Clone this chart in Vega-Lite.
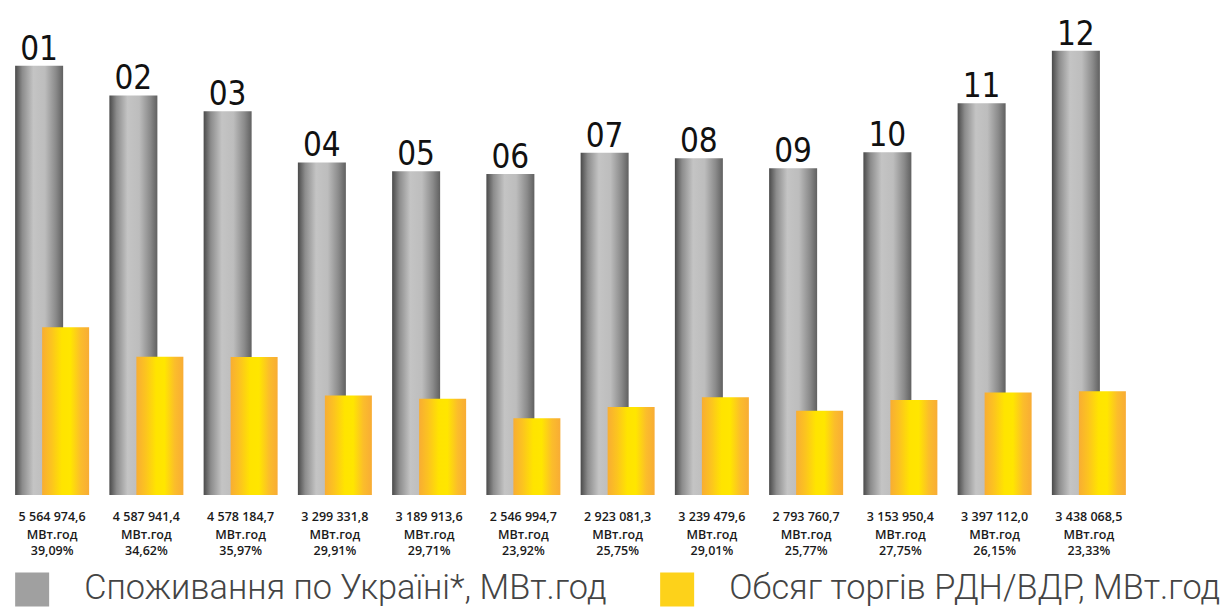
{
  "$schema": "https://vega.github.io/schema/vega-lite/v6.json",
  "width": 1131,
  "height": 495,
  "autosize": {"type": "none"},
  "padding": {"left": 5, "top": 0, "right": 93, "bottom": 113},
  "background": "white",
  "config": {"view": {"stroke": null}},
  "datasets": {
    "months": [
      {"month": "01", "cons": 14236300, "vol": 5564974.6, "volLabel": "5 564 974,6", "pct": "39,09%"},
      {"month": "02", "cons": 13252300, "vol": 4587941.4, "volLabel": "4 587 941,4", "pct": "34,62%"},
      {"month": "03", "cons": 12727800, "vol": 4578184.7, "volLabel": "4 578 184,7", "pct": "35,97%"},
      {"month": "04", "cons": 11030900, "vol": 3299331.8, "volLabel": "3 299 331,8", "pct": "29,91%"},
      {"month": "05", "cons": 10736800, "vol": 3189913.6, "volLabel": "3 189 913,6", "pct": "29,71%"},
      {"month": "06", "cons": 10648000, "vol": 2546994.7, "volLabel": "2 546 994,7", "pct": "23,92%"},
      {"month": "07", "cons": 11351800, "vol": 2923081.3, "volLabel": "2 923 081,3", "pct": "25,75%"},
      {"month": "08", "cons": 11166800, "vol": 3239479.6, "volLabel": "3 239 479,6", "pct": "29,01%"},
      {"month": "09", "cons": 10841100, "vol": 2793760.7, "volLabel": "2 793 760,7", "pct": "25,77%"},
      {"month": "10", "cons": 11365600, "vol": 3153950.4, "volLabel": "3 153 950,4", "pct": "27,75%"},
      {"month": "11", "cons": 12990900, "vol": 3397112.0, "volLabel": "3 397 112,0", "pct": "26,15%"},
      {"month": "12", "cons": 14736700, "vol": 3438068.5, "volLabel": "3 438 068,5", "pct": "23,33%"}
    ],
    "legend": [
      {"series": "Споживання по Україні*, МВт.год"},
      {"series": "Обсяг торгів РДН/ВДР, МВт.год"}
    ]
  },
  "layer": [
    {
      "data": {"name": "months"},
      "mark": {
        "type": "bar", "width": 48, "xOffset": -13,
        "color": {"gradient": "linear", "x1": 0, "x2": 1, "y1": 0, "y2": 0,
          "stops": [
            {"offset": 0, "color": "#4a4a4a"},
            {"offset": 0.15, "color": "#8c8c8c"},
            {"offset": 0.38, "color": "#c4c4c4"},
            {"offset": 0.62, "color": "#bdbdbd"},
            {"offset": 0.85, "color": "#8a8a8a"},
            {"offset": 1, "color": "#606060"}
          ]}
      },
      "encoding": {
        "x": {"field": "month", "type": "ordinal", "axis": null, "scale": {"paddingInner": 0, "paddingOuter": 0}},
        "y": {"field": "cons", "type": "quantitative", "axis": null, "scale": {"domain": [0, 16420000], "nice": false}}
      }
    },
    {
      "data": {"name": "months"},
      "mark": {
        "type": "bar", "width": 47, "xOffset": 13.5,
        "color": {"gradient": "linear", "x1": 0, "x2": 1, "y1": 0, "y2": 0,
          "stops": [
            {"offset": 0, "color": "#f8ad33"},
            {"offset": 0.2, "color": "#fcc41f"},
            {"offset": 0.42, "color": "#ffe400"},
            {"offset": 0.6, "color": "#ffe600"},
            {"offset": 0.82, "color": "#fbbd2b"},
            {"offset": 1, "color": "#f8ac35"}
          ]}
      },
      "encoding": {
        "x": {"field": "month", "type": "ordinal"},
        "y": {"field": "vol", "type": "quantitative"}
      }
    },
    {
      "data": {"name": "months"},
      "mark": {"type": "text", "xOffset": -13, "dy": -6, "baseline": "alphabetic", "align": "center",
        "font": "DejaVu Sans Condensed, Roboto, sans-serif", "fontSize": 33, "color": "#111111"},
      "encoding": {
        "x": {"field": "month", "type": "ordinal"},
        "y": {"field": "cons", "type": "quantitative"},
        "text": {"field": "month"}
      }
    },
    {
      "data": {"name": "months"},
      "mark": {"type": "text", "dy": 22, "baseline": "middle", "align": "center",
        "font": "Open Sans", "fontWeight": 600, "fontSize": 12.5, "color": "#1a1a1a"},
      "encoding": {
        "x": {"field": "month", "type": "ordinal"},
        "y": {"datum": 0, "type": "quantitative"},
        "text": {"field": "volLabel"}
      }
    },
    {
      "data": {"name": "months"},
      "mark": {"type": "text", "dy": 40, "baseline": "middle", "align": "center",
        "font": "Open Sans", "fontWeight": 600, "fontSize": 12.5, "color": "#1a1a1a"},
      "encoding": {
        "x": {"field": "month", "type": "ordinal"},
        "y": {"datum": 0, "type": "quantitative"},
        "text": {"value": "МВт.год"}
      }
    },
    {
      "data": {"name": "months"},
      "mark": {"type": "text", "dy": 56, "baseline": "middle", "align": "center",
        "font": "Open Sans", "fontWeight": 600, "fontSize": 12.5, "color": "#1a1a1a"},
      "encoding": {
        "x": {"field": "month", "type": "ordinal"},
        "y": {"datum": 0, "type": "quantitative"},
        "text": {"field": "pct"}
      }
    },
    {
      "data": {"name": "legend"},
      "mark": {"type": "square", "opacity": 0},
      "encoding": {
        "color": {
          "field": "series", "type": "nominal",
          "scale": {"domain": ["Споживання по Україні*, МВт.год", "Обсяг торгів РДН/ВДР, МВт.год"], "range": ["#a0a0a0", "#fdd21a"]},
          "legend": {
            "title": null, "orient": "none", "legendX": 10, "legendY": 572,
            "direction": "horizontal", "columnPadding": 53, "padding": 0,
            "symbolType": "square", "symbolSize": 1156, "symbolOpacity": 1, "symbolStrokeWidth": 0,
            "labelFont": "Roboto", "labelFontWeight": 300, "labelFontSize": 34.3, "labelColor": "#444444",
            "labelOffset": 35, "labelLimit": 700
          }
        }
      }
    }
  ]
}
